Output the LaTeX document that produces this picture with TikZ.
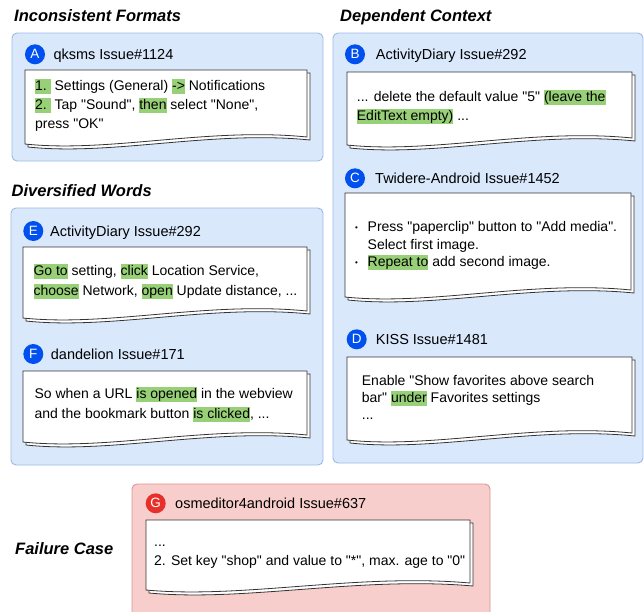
\documentclass[tikz,border=0pt]{standalone}
\usepackage{fontspec}
\setmainfont{Liberation Sans}[Ligatures=TeXOff]

\definecolor{panelblue}{HTML}{DAE8FC}
\definecolor{panelblueline}{HTML}{9DB9E3}
\definecolor{panelred}{HTML}{F8CECC}
\definecolor{panelredline}{HTML}{D99593}
\definecolor{badgeblue}{HTML}{0050EF}
\definecolor{badgered}{HTML}{E8302A}
\definecolor{hlgreen}{HTML}{97D077}
\definecolor{sheetline}{HTML}{333333}

\newcommand\hl[1]{{\setlength{\fboxsep}{0pt}\colorbox{hlgreen}{\rule[-3.5pt]{0pt}{15pt}#1}}}
\newcommand\bulletbox{\makebox[12.5pt][l]{\fontsize{8}{8}\selectfont\raisebox{1.5pt}{•}}}

\tikzset{
  panel/.style={draw=panelblueline, fill=panelblue, rounded corners=5pt, line width=0.9pt},
  failpanel/.style={panel, draw=panelredline, fill=panelred},
  sheet/.style={draw=sheetline, fill=white, line width=0.8pt},
  badge/.style={circle, fill=badgeblue, text=white, minimum size=20pt, inner sep=0pt,
    font=\fontsize{13.5}{13.5}\selectfont},
  heading/.style={anchor=base west, inner sep=0pt,
    font=\fontsize{16.5}{16.5}\selectfont\bfseries\itshape},
  issue/.style={anchor=base west, inner sep=0pt, font=\fontsize{14.5}{14.5}\selectfont},
  % multi-line text: placed at the baseline of its last line
  bodytext/.style={anchor=base west, inner sep=0pt, align=left,
    font=\fontsize{14}{#1}\selectfont},
  bodytext/.default=19
}

\begin{document}
\begin{tikzpicture}[x=1pt,y=-1pt]

\useasboundingbox (0,0) rectangle (644,611);
\clip (0,0) rectangle (644,611);

% panels
\draw [panel] (12,33) rectangle (323,161);
\draw [panel] (333,33) rectangle (643,463);
\draw [panel] (11,208) rectangle (323,465);
\draw [failpanel] (132,484) rectangle (490,625);

\node [heading] (inconsistent) at (14,21.7) {Inconsistent Formats};
\node [heading] (dependent) at (340,21) {Dependent Context};
\node [heading] (diversified) at (11.5,196) {Diversified Words};
\node [heading] (failure) at (15,554.3) {Failure Case};

% sheets, back one first
\foreach \xa/\ya/\xb/\yb in {25/70/307/144, 347/72/632/145, 345/193/631/297,
    347/357/632/440, 23/247/307/318, 23/371/307/442, 146/520/470/590} {
  \draw [sheet, shift={(3,3)}] (\xa,\ya) -- (\xb,\ya) -- (\xb,\yb-7)
    .. controls ({\xa+0.65*(\xb-\xa)},\yb-17) and ({\xa+0.3*(\xb-\xa)},\yb+9) .. (\xa,\yb) -- cycle;
  \draw [sheet] (\xa,\ya) -- (\xb,\ya) -- (\xb,\yb-7)
    .. controls ({\xa+0.65*(\xb-\xa)},\yb-17) and ({\xa+0.3*(\xb-\xa)},\yb+9) .. (\xa,\yb) -- cycle;
}

\node [badge] (badgeA) at (35,54.3) {A};
\node [badge] (badgeB) at (355,54.3) {B};
\node [badge] (badgeC) at (355,178.3) {C};
\node [badge] (badgeD) at (356.7,339.3) {D};
\node [badge] (badgeE) at (33.3,231) {E};
\node [badge] (badgeF) at (33.3,354) {F};
\node [badge, fill=badgered] (badgeG) at (155.7,503.3) {G};

\node [issue] (issueA) at (53.3,59.5) {qksms Issue\#1124};
\node [issue] (issueB) at (375.7,59.5) {ActivityDiary Issue\#292};
\node [issue] (issueC) at (375,183.5) {Twidere-Android Issue\#1452};
\node [issue] (issueD) at (375.7,344.5) {KISS Issue\#1481};
\node [issue] (issueE) at (50,236.2) {ActivityDiary Issue\#292};
\node [issue] (issueF) at (50.7,359.2) {dandelion Issue\#171};
\node [issue] (issueG) at (175,508.5) {osmeditor4android Issue\#637};

\node [bodytext] (textA) at (35,128) {\hl{1.\ }\ Settings (General) \hl{->} Notifications\\
  \hl{2.\ }\ Tap "Sound", \hl{then} select "None",\\
  press "OK"};
\node [bodytext] (textB) at (356.7,120) {... delete the default value "5" \hl{(leave the}\\
  \hl{EditText empty)} ...};
\node [bodytext=17.5] (textC) at (355,266.5) {\bulletbox Press "paperclip" button to "Add media".\\
  \hspace*{12.5pt}Select first image.\\
  \bulletbox\hl{Repeat to} add second image.};
\node [bodytext=17.3] (textD) at (361.7,419.6) {Enable "Show favorites above search\\
  bar" \hl{under} Favorites settings\\
  ...};
\node [bodytext=20] (textE) at (33.3,295) {\hl{Go to} setting, \hl{click} Location Service,\\
  \hl{choose} Network, \hl{open} Update distance, ...};
\node [bodytext=20] (textF) at (34.3,418) {So when a URL \hl{is opened} in the webview\\
  and the bookmark button \hl{is clicked}, ...};
\node [bodytext=19.5] (textG) at (154,565.5) {...\\
  2. Set key "shop" and value to "*", max. age to "0"};

\end{tikzpicture}
\end{document}
